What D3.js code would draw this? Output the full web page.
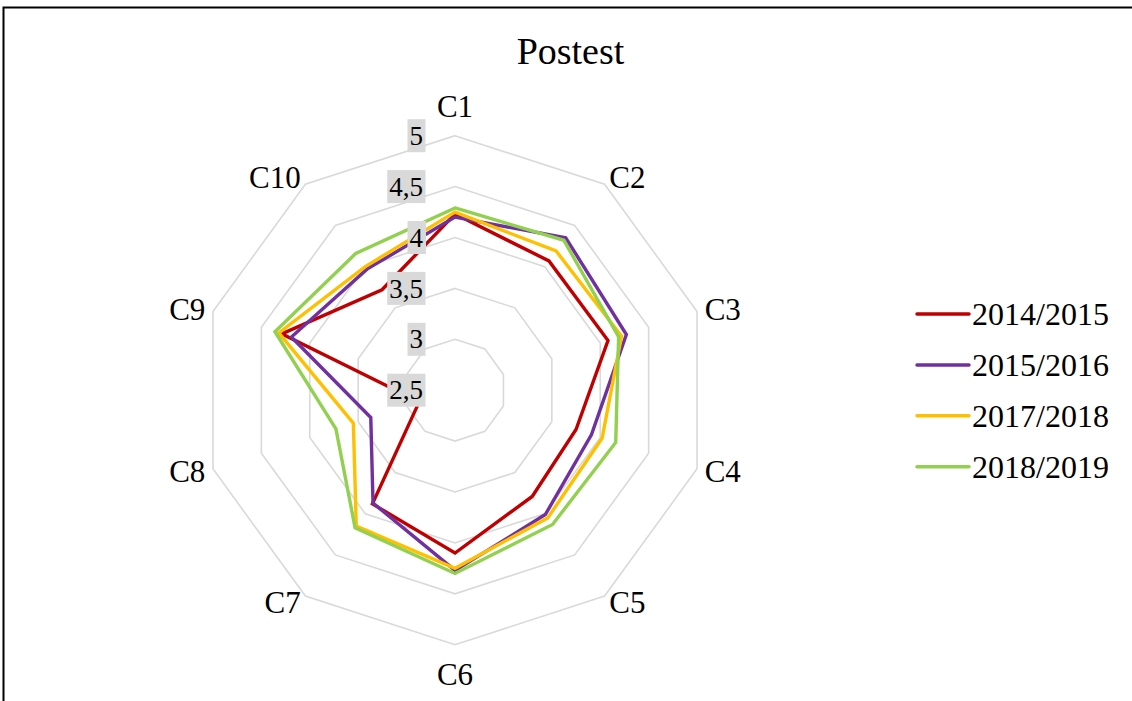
<!DOCTYPE html>
<html>
<head>
<meta charset="utf-8">
<script src="https://cdn.jsdelivr.net/npm/d3@7"></script>
<style>
  html, body { margin: 0; padding: 0; background: #fff; }
  svg { display: block; }
  text { font-family: "Liberation Serif", "Times New Roman", serif; fill: #000; }
</style>
</head>
<body>
<svg id="chart" width="1132" height="701"></svg>
<script>
// Competence areas around the radar
const categories = ["C1", "C2", "C3", "C4", "C5", "C6", "C7", "C8", "C9", "C10"];

// Postest mean scores per school year
const y2014_2015 = [4.23, 4.07, 4.08, 3.75, 3.79, 4.10, 3.88, 2.87, 4.29, 3.72];
const y2015_2016 = [4.20, 4.35, 4.27, 3.91, 4.01, 4.27, 3.87, 3.37, 4.19, 3.97];
const y2017_2018 = [4.25, 4.19, 4.22, 4.02, 4.05, 4.25, 4.15, 3.55, 4.32, 4.00];
const y2018_2019 = [4.29, 4.32, 4.19, 4.16, 4.13, 4.30, 4.17, 3.73, 4.36, 4.16];

const seriesNames = ["2014/2015", "2015/2016", "2017/2018", "2018/2019"];
const seriesValues = [y2014_2015, y2015_2016, y2017_2018, y2018_2019];
const seriesColors = ["#C00000", "#7030A0", "#FFC000", "#92D050"];

// Radial gridline values and their labels
const tickValues = [2.5, 3, 3.5, 4, 4.5, 5];
const tickLabels = ["2,5", "3", "3,5", "4", "4,5", "5"];

const svg = d3.select("#chart");
const cx = 455, cy = 390.2, R = 254.5;

// chart frame
svg.append("rect")
  .attr("x", 3.5).attr("y", 7.5)
  .attr("width", 1140).attr("height", 720)
  .attr("fill", "#fff")
  .attr("stroke", "#000").attr("stroke-width", 2);

// title
svg.append("text")
  .attr("x", 570.5).attr("y", 64)
  .attr("text-anchor", "middle")
  .style("font-size", "38px")
  .text("Postest");

const r = d3.scaleLinear().domain([2.5, 5]).range([0, R]);
const angle = d3.scalePoint().domain(categories).range([0, 2 * Math.PI * (categories.length - 1) / categories.length]);

const g = svg.append("g").attr("transform", `translate(${cx},${cy})`);

const pt = (cat, v) => {
  const a = angle(cat);
  return [Math.sin(a) * r(v), -Math.cos(a) * r(v)];
};

// concentric decagon gridlines
const ringLine = d3.line();
tickValues.filter(t => t > 2.5).forEach(t => {
  const pts = categories.map(c => pt(c, t));
  g.append("path")
    .attr("d", ringLine(pts) + "Z")
    .attr("fill", "none")
    .attr("stroke", "#d9d9d9")
    .attr("stroke-width", 1.6);
});

// series polygons
const radarLine = d3.lineRadial()
  .angle((d, i) => angle(categories[i]))
  .radius(d => r(d))
  .curve(d3.curveLinearClosed);

seriesValues.forEach((vals, i) => {
  g.append("path")
    .attr("d", radarLine(vals))
    .attr("fill", "none")
    .attr("stroke", seriesColors[i])
    .attr("stroke-width", 3.4)
    .attr("stroke-linejoin", "miter");
});

// category labels
categories.forEach(c => {
  const a = angle(c);
  const s = Math.sin(a), co = -Math.cos(a);
  const [x, y] = [s * (R + 8), co * (R + 8)];
  const t = g.append("text").style("font-size", "31px").text(c);
  if (Math.abs(s) < 0.01) {
    t.attr("text-anchor", "middle").attr("x", x);
    if (co < 0) t.attr("y", -R - 19);
    else t.attr("y", R + 17).attr("dy", "0.75em");
  } else {
    t.attr("text-anchor", s > 0 ? "start" : "end")
      .attr("x", x).attr("y", y).attr("dy", "0.34em");
  }
});

// radial value labels with shaded boxes
tickValues.forEach((t, i) => {
  const y = -r(t);
  const lbl = g.append("g");
  const txt = lbl.append("text")
    .attr("x", -32).attr("y", y).attr("dy", "0.34em")
    .attr("text-anchor", "end")
    .style("font-size", "27px")
    .text(tickLabels[i]);
  const bb = txt.node().getBBox();
  lbl.insert("rect", "text")
    .attr("x", bb.x - 2).attr("y", y - 16.5)
    .attr("width", bb.width + 4.5).attr("height", 33)
    .attr("fill", "#d9d9d9");
});

// legend
const legend = svg.append("g").attr("transform", "translate(917,314)");
seriesNames.forEach((name, i) => {
  const row = legend.append("g").attr("transform", `translate(0,${i * 50.9})`);
  row.append("line")
    .attr("x1", 0).attr("x2", 52).attr("y1", 0).attr("y2", 0)
    .attr("stroke", seriesColors[i]).attr("stroke-width", 3.5)
    .attr("stroke-linecap", "round");
  row.append("text")
    .attr("x", 55).attr("y", 0).attr("dy", "0.34em")
    .style("font-size", "32px")
    .text(name);
});
</script>
</body>
</html>
